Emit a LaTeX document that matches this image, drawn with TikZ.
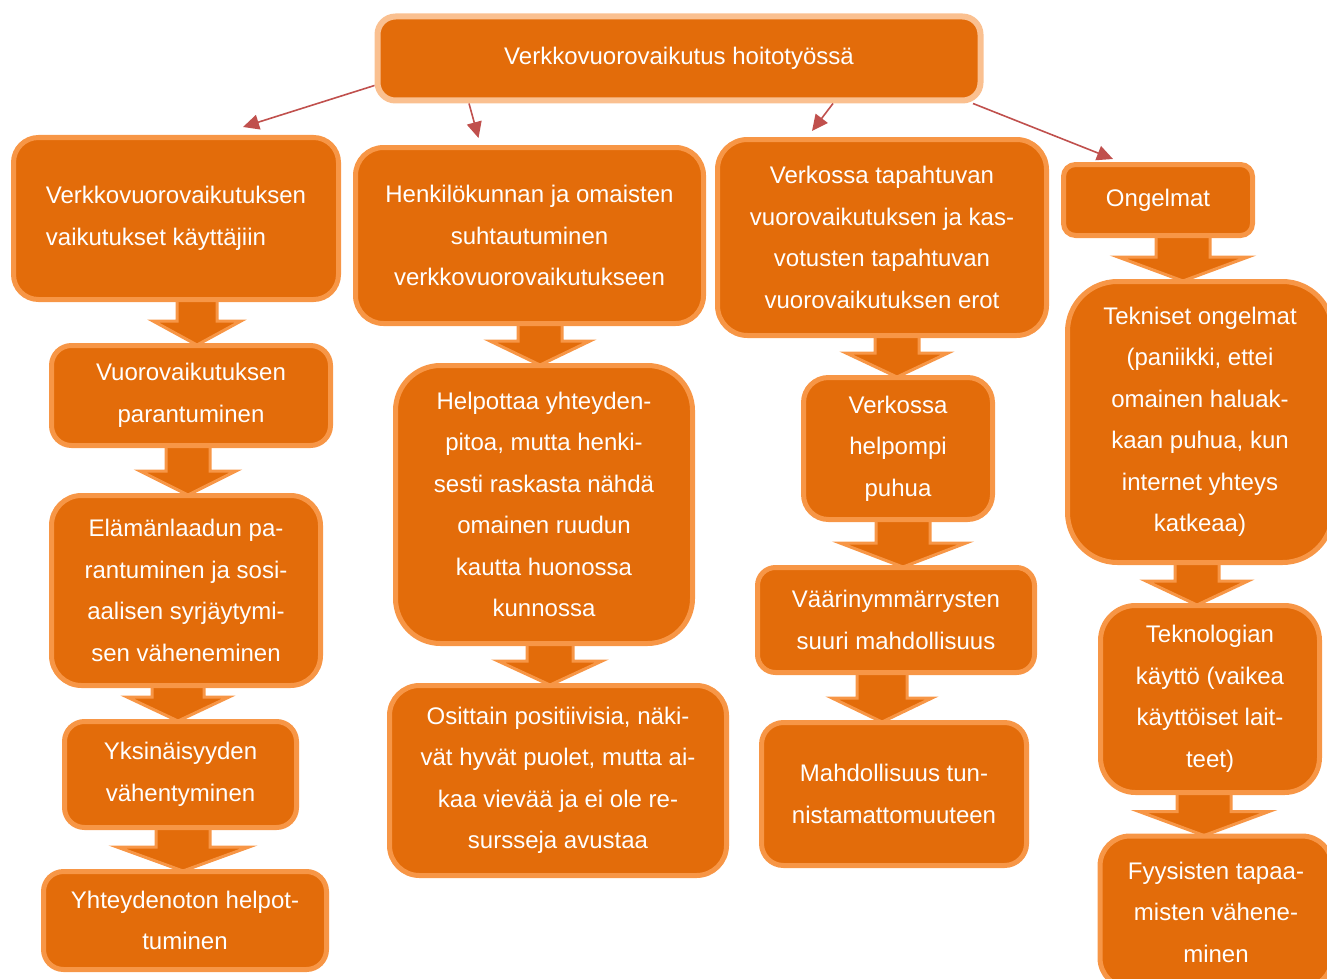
\documentclass[tikz,border=0pt]{standalone}
\usepackage{fontspec}
\setmainfont{Liberation Sans}
\usepackage{tikz}
\usetikzlibrary{arrows.meta,positioning,backgrounds,calc}
\definecolor{pumpkin}{RGB}{227,108,10}
\definecolor{apricot}{RGB}{247,150,70}
\definecolor{peach}{RGB}{250,192,144}
\definecolor{brick}{RGB}{192,80,77}
\newcommand{\boxfont}{\fontsize{24}{41.5}\selectfont}
\tikzstyle{box} = [rectangle, rounded corners=20pt, draw=apricot, line width=5pt, fill=pumpkin, text=white, align=center, font=\boxfont, inner sep=0pt]
\tikzstyle{topic} = [box, draw=peach, line width=6pt, rounded corners=18pt]
\tikzstyle{flowarr} = [fill=pumpkin, draw=apricot, line width=3pt, line join=miter]
\tikzstyle{redge} = [draw=brick, line width=1.6pt, -{Triangle[length=16pt,width=15pt]}]
% block arrow between two boxes: upper, lower, x, half shaft, half head
\newcommand{\flow}[5]{%
  \path[flowarr] let \p1=(#1.south), \p2=(#2.north) in
    ({(#3-#4)*1pt},{\y1+4pt}) -- ({(#3-#4)*1pt},{\y2+22pt}) --
    ({(#3-#5)*1pt},{\y2+22pt}) -- ({#3*1pt},{\y2-2pt}) --
    ({(#3+#5)*1pt},{\y2+22pt}) -- ({(#3+#4)*1pt},{\y2+22pt}) --
    ({(#3+#4)*1pt},{\y1+4pt}) -- cycle;}
\begin{document}
\begin{tikzpicture}[x=1pt, y=-1pt]
\useasboundingbox (0,0) rectangle (1327,979);

% top =============================
\node[topic, minimum width=603pt, minimum height=84pt] (top) at (679,58.5) {Verkkovuorovaikutus hoitotyössä};

% column 1 =============================
\node[box, align=left, rounded corners=25pt, minimum width=325pt, minimum height=162pt] (b1) at (176,218.5) {Verkkovuorovaikutuksen\\vaikutukset käyttäjiin};
\node[box, minimum width=279pt, minimum height=100pt] (b2) at (191,395.5) {Vuorovaikutuksen\\parantuminen};
\node[box, rounded corners=30pt, minimum width=269pt, minimum height=190pt] (b3) at (186,590.5) {Elämänlaadun pa-\\rantuminen ja sosi-\\aalisen syrjäytymi-\\sen väheneminen};
\node[box, minimum width=232pt, minimum height=106pt] (b4) at (180.5,774.5) {Yksinäisyyden\\vähentyminen};
\node[box, minimum width=283pt, minimum height=98pt] (b5) at (185,920.5) {Yhteydenoton helpot-\\tuminen};

% column 2 =============================
\node[box, rounded corners=28pt, minimum width=348pt, minimum height=176pt] (c1) at (529.5,235.5) {Henkilökunnan ja omaisten\\suhtautuminen\\verkkovuorovaikutukseen};
\node[box, rounded corners=45pt, minimum width=297pt, minimum height=278pt] (c2) at (544,504.5) {Helpottaa yhteyden-\\pitoa, mutta henki-\\sesti raskasta nähdä\\omainen ruudun\\kautta huonossa\\kunnossa};
\node[box, rounded corners=30pt, minimum width=337pt, minimum height=190pt] (c3) at (558,780.5) {Osittain positiivisia, näki-\\vät hyvät puolet, mutta ai-\\kaa vievää ja ei ole re-\\sursseja avustaa};

% column 3 =============================
\node[box, rounded corners=30pt, minimum width=329pt, minimum height=196pt] (d1) at (882,237.5) {Verkossa tapahtuvan\\vuorovaikutuksen ja kas-\\votusten tapahtuvan\\vuorovaikutuksen erot};
\node[box, rounded corners=25pt, minimum width=189pt, minimum height=142pt] (d2) at (898,448.5) {Verkossa\\helpompi\\puhua};
\node[box, rounded corners=18pt, minimum width=277pt, minimum height=105pt] (d3) at (896,620) {Väärinymmärrysten\\suuri mahdollisuus};
\node[box, rounded corners=22pt, minimum width=265pt, minimum height=143pt] (d4) at (894,794) {Mahdollisuus tun-\\nistamattomuuteen};

% column 4 =============================
\node[box, rounded corners=12pt, minimum width=189pt, minimum height=71pt] (e1) at (1158,200) {Ongelmat};
\node[box, rounded corners=50pt, minimum width=265pt, minimum height=281pt] (e2) at (1200,422) {Tekniset ongelmat\\(paniikki, ettei\\omainen haluak-\\kaan puhua, kun\\internet yhteys\\katkeaa)};
\node[box, rounded corners=35pt, minimum width=219pt, minimum height=187pt] (e3) at (1210,699) {Teknologian\\käyttö (vaikea\\käyttöiset lait-\\teet)};
\node[box, rounded corners=30pt, minimum width=232pt, minimum height=152pt] (e4) at (1216,912) {Fyysisten tapaa-\\misten vähene-\\minen};

% block arrows
\begin{scope}[on background layer]
\flow{b1}{b2}{197}{20}{44}
\flow{b2}{b3}{188}{22}{48}
\flow{b3}{b4}{178}{26}{51}
\flow{b4}{b5}{183}{27}{66}
\flow{c1}{c2}{540}{22}{50}
\flow{c2}{c3}{550}{23}{52}
\flow{d1}{d2}{897}{22}{51}
\flow{d2}{d3}{903}{27}{63}
\flow{d3}{d4}{882}{25}{50}
\flow{e1}{e2}{1183}{27}{65}
\flow{e2}{e3}{1197}{22}{51}
\flow{e3}{e4}{1204}{27}{65}
\end{scope}

% edges
\path[redge] ([yshift=-27pt]top.west) -- ([xshift=67pt,yshift=8pt]b1.north);
\path[redge] ([xshift=-210pt]top.south) -- ([xshift=-51pt,yshift=7pt]c1.north);
\path[redge] ([xshift=154pt]top.south) -- ([xshift=-70pt,yshift=6pt]d1.north);
\path[redge] ([xshift=294pt]top.south) -- ([xshift=-45pt,yshift=3pt]e1.north);

\end{tikzpicture}
\end{document}
